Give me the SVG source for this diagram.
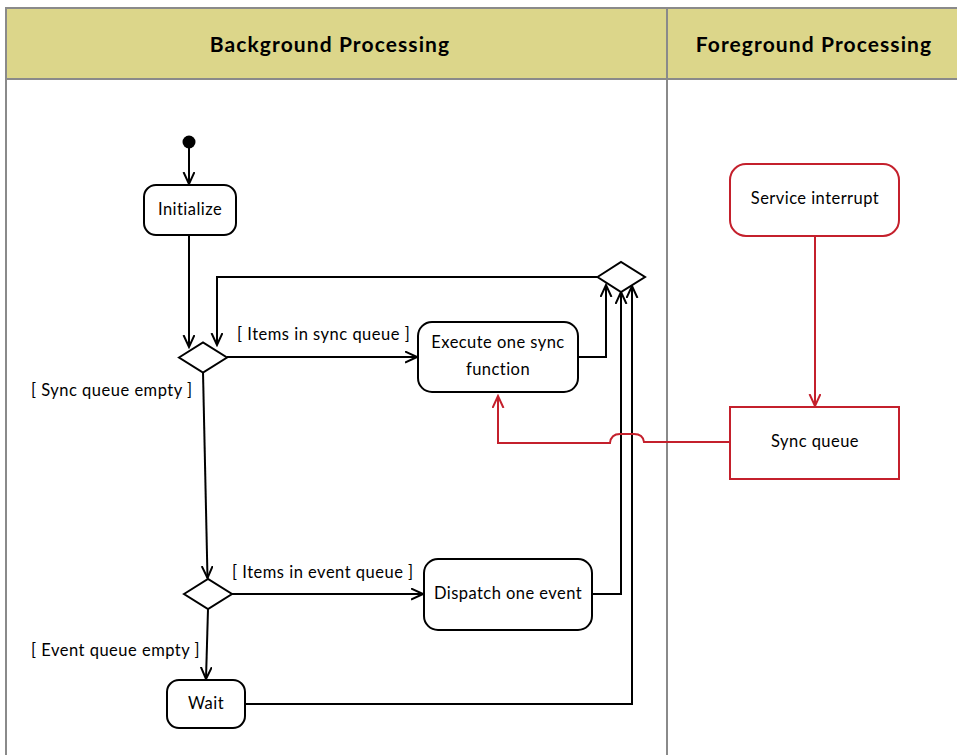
<svg xmlns="http://www.w3.org/2000/svg" width="957" height="755" viewBox="0 0 957 755">
  <defs>
    <marker id="arr" markerWidth="14" markerHeight="14" refX="12" refY="6" orient="auto" markerUnits="userSpaceOnUse">
      <path d="M0,0.5 L12,6 L0,11.5" fill="none" stroke="#000" stroke-width="2"/>
    </marker>
    <marker id="arrRed" markerWidth="14" markerHeight="14" refX="12" refY="6" orient="auto" markerUnits="userSpaceOnUse">
      <path d="M0,0.5 L12,6 L0,11.5" fill="none" stroke="#c4202c" stroke-width="2"/>
    </marker>
    <style>
      .lane { fill: #fff; stroke: #8a8a8a; stroke-width: 2; }
      .head { fill: #dcd68a; stroke: #8a8a8a; stroke-width: 2; }
      .htxt { font-family: "Lato", "Liberation Sans", sans-serif; font-weight: bold; font-size: 21px; fill: #000; text-anchor: middle; letter-spacing: 1.1px; }
      .act { fill: #fff; stroke: #000; stroke-width: 2; }
      .actR { fill: #fff; stroke: #c4202c; stroke-width: 2; }
      .txt { font-family: "Lato", "Liberation Sans", sans-serif; font-size: 16.5px; fill: #000; text-anchor: middle; letter-spacing: 0.45px; }
      .lbl { font-family: "Lato", "Liberation Sans", sans-serif; font-size: 16.5px; fill: #000; letter-spacing: 0.5px; }
      .flow { fill: none; stroke: #000; stroke-width: 2; }
      .flowR { fill: none; stroke: #c4202c; stroke-width: 2; }
    </style>
  </defs>

  <!-- swimlanes -->
  <g id="lanes">
    <rect class="lane" x="6" y="8" width="661" height="760"/>
    <rect class="lane" x="667" y="8" width="300" height="760"/>
    <rect class="head" x="6" y="8" width="661" height="71"/>
    <rect class="head" x="667" y="8" width="300" height="71"/>
    <text class="htxt" x="330" y="52">Background Processing</text>
    <text class="htxt" x="814" y="52">Foreground Processing</text>
  </g>

  <!-- connectors -->
  <g id="connectors">
    <line class="flow" x1="189" y1="148" x2="189" y2="184" marker-end="url(#arr)"/>
    <line class="flow" x1="189" y1="235" x2="189" y2="347" marker-end="url(#arr)"/>
    <line class="flow" x1="227" y1="357" x2="417" y2="357" marker-end="url(#arr)"/>
    <line class="flow" x1="203" y1="372" x2="207.5" y2="578" marker-end="url(#arr)"/>
    <line class="flow" x1="232" y1="594" x2="423" y2="594" marker-end="url(#arr)"/>
    <line class="flow" x1="208" y1="609" x2="206" y2="679" marker-end="url(#arr)"/>
    <polyline class="flow" points="578,357 606,357 606,285" marker-end="url(#arr)"/>
    <polyline class="flow" points="592,594 621,594 621,292" marker-end="url(#arr)"/>
    <polyline class="flow" points="245,704 632,704 632,286" marker-end="url(#arr)"/>
    <polyline class="flow" points="597,277 217,277 217,345" marker-end="url(#arr)"/>
    <line class="flowR" x1="815" y1="236" x2="815" y2="406" marker-end="url(#arrRed)"/>
    <path class="flowR" d="M731,442 L644,442 Q643,434 634,434 L620,434 Q611,434 610,443 L498,443 L498,396" marker-end="url(#arrRed)"/>
  </g>

  <!-- guard labels -->
  <g id="labels">
    <text class="lbl" x="237" y="340">[ Items in sync queue ]</text>
    <text class="lbl" x="31" y="396">[ Sync queue empty ]</text>
    <text class="lbl" x="232" y="578">[ Items in event queue ]</text>
    <text class="lbl" x="31" y="656">[ Event queue empty ]</text>
  </g>

  <!-- nodes -->
  <g id="start">
    <circle cx="189" cy="142" r="6.5" fill="#000"/>
  </g>
  <g id="initialize">
    <rect class="act" x="144" y="185" width="92" height="50" rx="12"/>
    <text class="txt" x="190" y="215">Initialize</text>
  </g>
  <g id="syncDecision">
    <polygon class="act" points="179,357.5 203,342.5 227,357.5 203,372.5"/>
  </g>
  <g id="executeSync">
    <rect class="act" x="418" y="322" width="160" height="70" rx="14"/>
    <text class="txt" x="498" y="348">Execute one sync</text>
    <text class="txt" x="498" y="375">function</text>
  </g>
  <g id="eventDecision">
    <polygon class="act" points="184,594 208,579 232,594 208,609"/>
  </g>
  <g id="dispatchEvent">
    <rect class="act" x="424" y="559" width="168" height="71" rx="14"/>
    <text class="txt" x="508" y="599">Dispatch one event</text>
  </g>
  <g id="wait">
    <rect class="act" x="167" y="680" width="78" height="48" rx="12"/>
    <text class="txt" x="206" y="709">Wait</text>
  </g>
  <g id="merge">
    <polygon class="act" points="597.5,277 621,262 645,277 621,292"/>
  </g>
  <g id="serviceInterrupt">
    <rect class="actR" x="730" y="164" width="169" height="72" rx="16"/>
    <text class="txt" x="815" y="204">Service interrupt</text>
  </g>
  <g id="syncQueue">
    <rect class="actR" x="730" y="407" width="169" height="72"/>
    <text class="txt" x="815" y="447">Sync queue</text>
  </g>
</svg>
